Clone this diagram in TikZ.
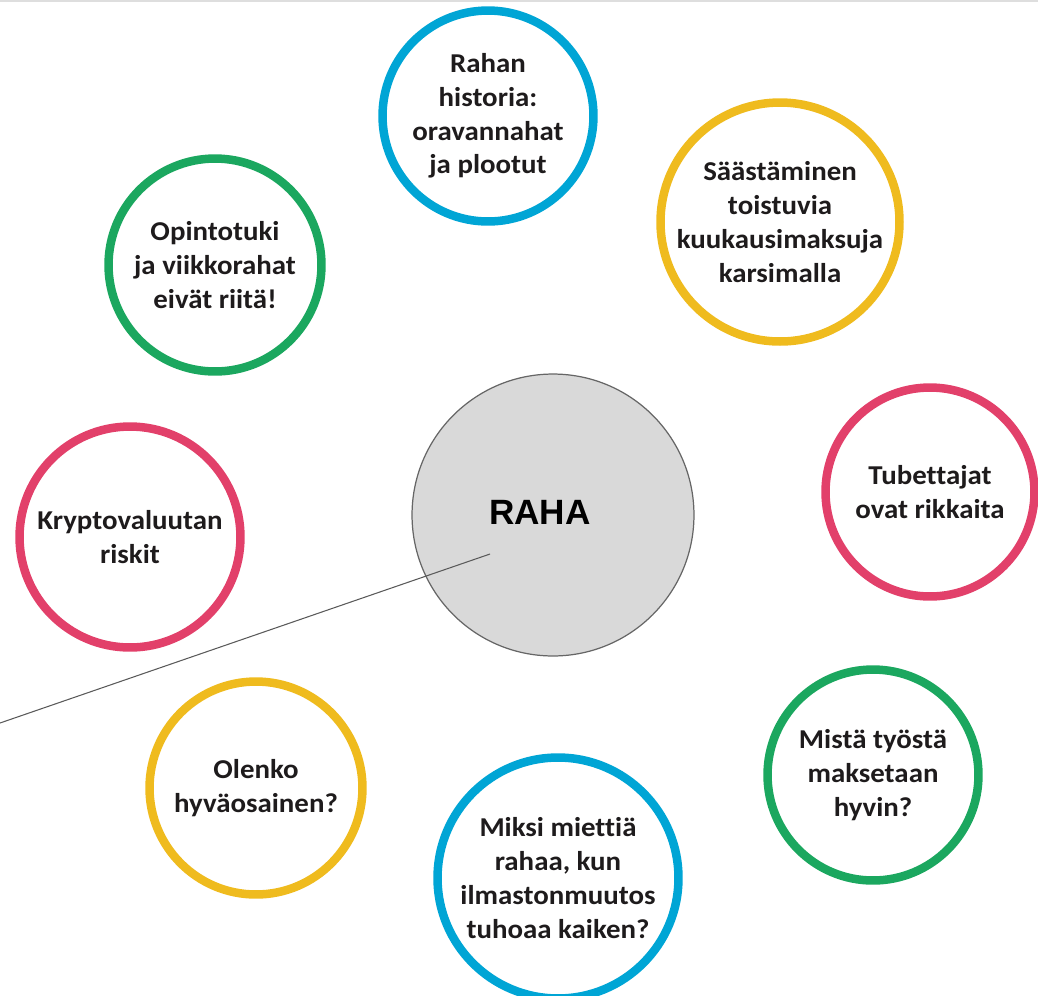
\documentclass[tikz,border=0pt]{standalone}
\usepackage{fontspec}
\setmainfont{Carlito}[Ligatures=NoCommon, FakeStretch=1.06]
\newfontfamily\rahafont{Liberation Sans}
\usetikzlibrary{positioning}

\definecolor{sininen}{HTML}{00A5D5}
\definecolor{vihrea}{HTML}{1BA75F}
\definecolor{keltainen}{HTML}{EFBB1E}
\definecolor{punainen}{HTML}{E2406A}
\definecolor{harmaa}{HTML}{D9D9D9}
\definecolor{teksti}{HTML}{1E1B1C}

\tikzset{
    kupla/.style={circle, draw=#1, line width=0.17cm, align=center,
        text=teksti, inner sep=0pt,
        font=\bfseries\fontsize{15.5}{19.2}\selectfont},
    keskus/.style={circle, draw=black!60, fill=harmaa, line width=0.7pt,
        minimum size=5.64cm},
    otsikko/.style={font=\rahafont\bfseries\fontsize{20}{22}\selectfont, inner sep=0pt}
}

\begin{document}
\begin{tikzpicture}[x=0.02cm, y=-0.02cm]

    % kehys: koko kuva ja ohut harmaa viiva ylhaalla
    \useasboundingbox (0,0) rectangle (1038,995);
    \draw[black!13, line width=1.2pt] (0,1) -- (1038,1);

    % -- Keskella: RAHA --
    \node[keskus] (raha) at (553,515) {};
    \node[otsikko] (rahateksti) at ([xshift=-0.26cm, yshift=0.06cm] raha.center) {RAHA};

    % -- Kuplat ympärillä --
    \node[kupla=sininen, minimum size=4.22cm] (historia) at (488,116)
        {Rahan\\historia:\\oravannahat\\ja plootut};
    \node[kupla=keltainen, minimum size=4.45cm] (saastaminen) at (780,222)
        {Säästäminen\\toistuvia\\kuukausimaksuja\\karsimalla};
    \node[kupla=vihrea, minimum size=4.26cm] (opintotuki) at (215,265)
        {Opintotuki\\ja viikkorahat\\eivät riitä!};
    \node[kupla=punainen, minimum size=4.42cm] (krypto) at (130,537)
        {Kryptovaluutan\\riskit};
    \node[kupla=punainen, minimum size=4.18cm] (tubettajat) at (930,492)
        {Tubettajat\\ovat rikkaita};
    \node[kupla=keltainen, minimum size=4.26cm] (olenko) at (256,788)
        {Olenko\\hyväosainen?};
    \node[kupla=sininen, minimum size=4.82cm] (miksi) at (558,878)
        {Miksi miettiä\\rahaa, kun\\ilmastonmuutos\\tuhoaa kaiken?};
    \node[kupla=vihrea, minimum size=4.22cm] (mista) at (873,775)
        {Mistä työstä\\maksetaan\\hyvin?};

    % Viiva keskuksesta vasempaan reunaan
    \coordinate (karki) at (490,554);
    \coordinate (reuna) at (0,723);
    \draw[black!65, line width=0.6pt] (reuna) -- (karki);
\end{tikzpicture}
\end{document}
